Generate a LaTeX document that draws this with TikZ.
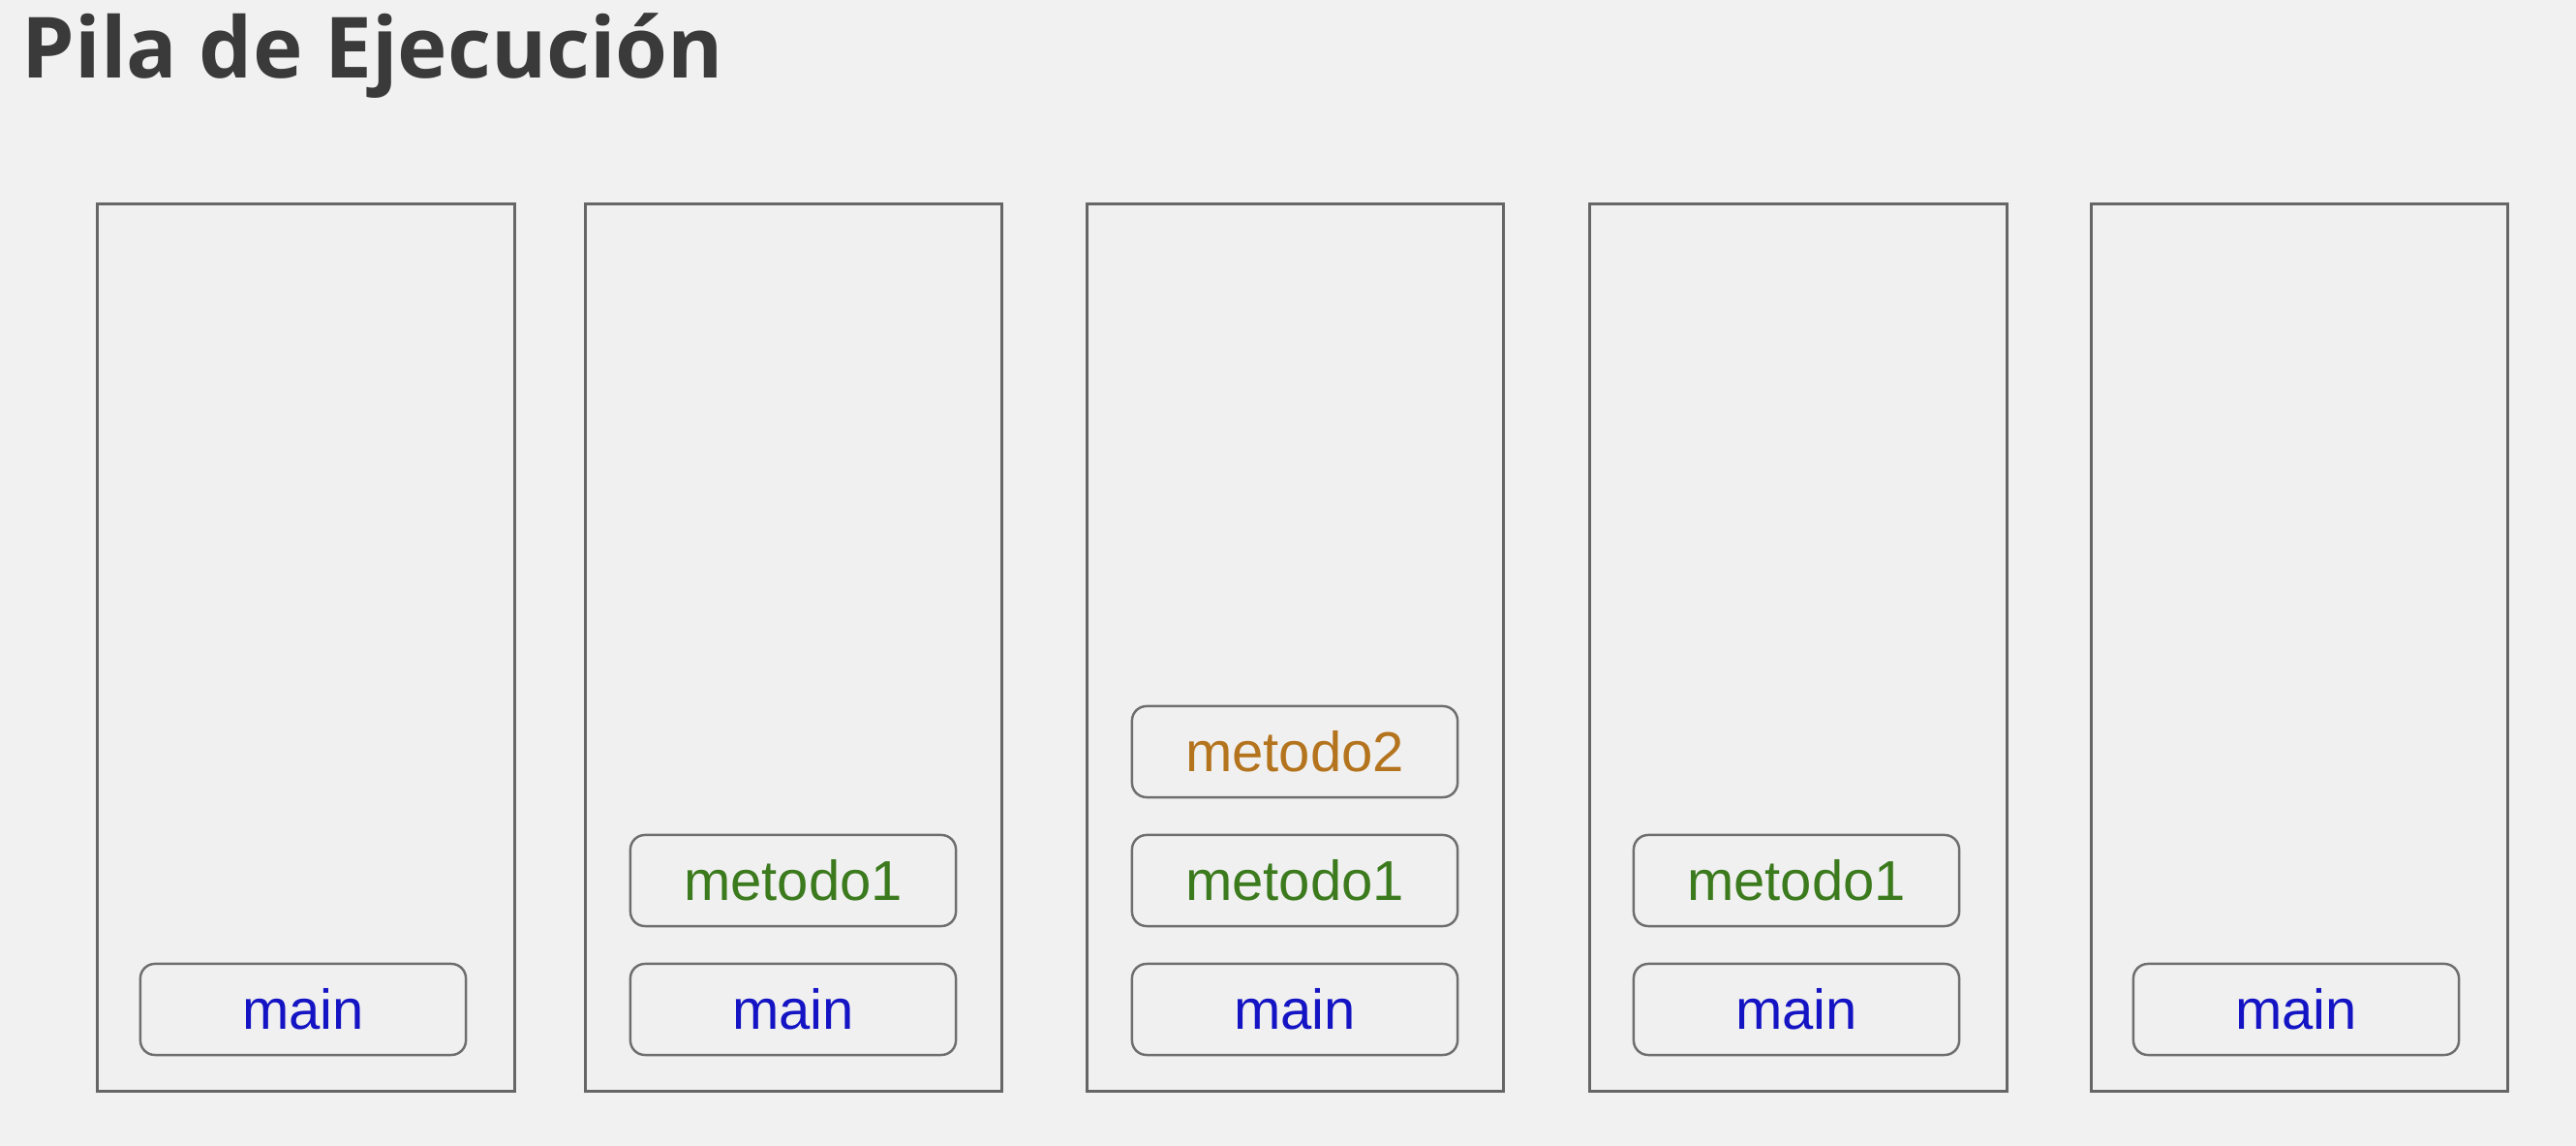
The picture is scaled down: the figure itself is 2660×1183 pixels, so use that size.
\documentclass[tikz,border=0pt]{standalone}
\usepackage{fontspec}
\setmainfont{Liberation Sans}
\newfontfamily\titlefont{Open Sans}
\definecolor{bgcol}{HTML}{F1F1F1}
\definecolor{colfill}{HTML}{F0F0F0}
\definecolor{framecol}{HTML}{666666}
\definecolor{boxcol}{HTML}{6E6E6E}
\definecolor{titlecol}{HTML}{3A3A3A}
\definecolor{maincol}{HTML}{1414C4}
\definecolor{m1col}{HTML}{3C7A1E}
\definecolor{m2col}{HTML}{B4741E}
\tikzset{
  stackcol/.style={draw=framecol, fill=colfill, line width=0.9pt,
    minimum width=4.30cm, minimum height=9.15cm, inner sep=0pt},
  frame/.style={draw=boxcol, fill=colfill, line width=0.7pt, rounded corners=0.15cm,
    minimum width=3.36cm, minimum height=0.94cm, inner sep=0pt,
    font=\fontsize{16.5pt}{19pt}\selectfont},
  mainf/.style={frame, text=maincol},
  mone/.style={frame, text=m1col},
  mtwo/.style={frame, text=m2col},
}
\begin{document}
\begin{tikzpicture}[x=0.01cm, y=-0.01cm]
  % page background and bounds
  \fill[bgcol] (0,0) rectangle (2660,1183);
  \useasboundingbox (0,0) rectangle (2660,1183);

  % title
  \node[anchor=base west, inner sep=0pt, text=titlecol,
        font=\titlefont\bfseries\fontsize{24.8pt}{28pt}\selectfont]
        (title) at (22,81) {Pila de Ejecución};

  % the five snapshots of the stack
  \node[stackcol] (s1) at (316,668.5) {};
  \node[stackcol] (s2) at (819.5,668.5) {};
  \node[stackcol] (s3) at (1337.5,668.5) {};
  \node[stackcol] (s4) at (1857,668.5) {};
  \node[stackcol] (s5) at (2374.5,668.5) {};

  % frames
  \node[mainf] (s1main) at (313,1042) {main};

  \node[mainf] (s2main) at (819,1042) {main};
  \node[mone]  (s2m1)   at (819,909)  {metodo1};

  \node[mainf] (s3main) at (1337,1042) {main};
  \node[mone]  (s3m1)   at (1337,909)  {metodo1};
  \node[mtwo]  (s3m2)   at (1337,776)  {metodo2};

  \node[mainf] (s4main) at (1855,1042) {main};
  \node[mone]  (s4m1)   at (1855,909)  {metodo1};

  \node[mainf] (s5main) at (2371,1042) {main};
\end{tikzpicture}
\end{document}
